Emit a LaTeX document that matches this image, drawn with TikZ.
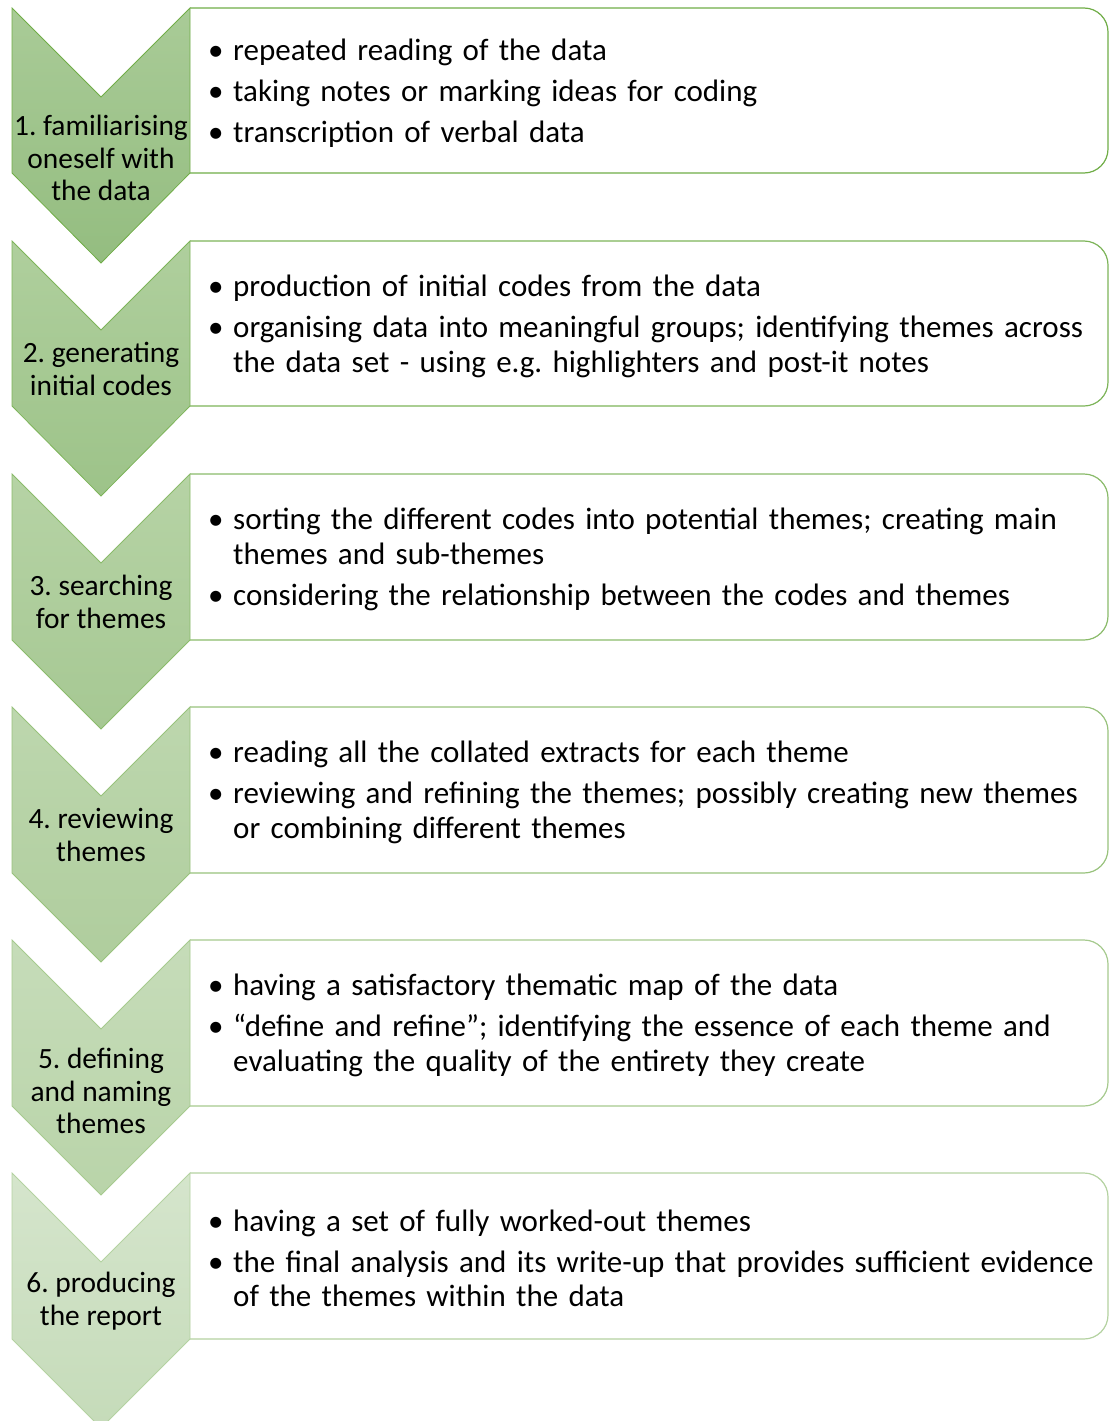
\documentclass[tikz,border=0pt]{standalone}
\usepackage{fontspec}
\setmainfont{Carlito}
\frenchspacing
\definecolor{haut1}{HTML}{A9CB97}\definecolor{bas1}{HTML}{94BD80}\definecolor{trait1}{HTML}{70AD47}
\definecolor{haut2}{HTML}{AFCF9D}\definecolor{bas2}{HTML}{9DC389}\definecolor{trait2}{HTML}{7DB459}
\definecolor{haut3}{HTML}{B6D3A5}\definecolor{bas3}{HTML}{A6C893}\definecolor{trait3}{HTML}{8ABB6A}
\definecolor{haut4}{HTML}{BDD7AE}\definecolor{bas4}{HTML}{AFCD9D}\definecolor{trait4}{HTML}{98C27C}
\definecolor{haut5}{HTML}{C6DCB9}\definecolor{bas5}{HTML}{B9D4A9}\definecolor{trait5}{HTML}{A6CA8E}
\definecolor{haut6}{HTML}{D5E5CC}\definecolor{bas6}{HTML}{C5DBB9}\definecolor{trait6}{HTML}{B4D2A1}
\newcommand\puce[1]{\hangindent=25pt\hangafter=1\noindent\makebox[25pt][l]{\textbullet}#1\par}
\tikzset{
  chevron/.style = {line width=0.8pt, line join=miter},% fleche verte
  boite/.style = {fill=white, line width=1.2pt, rounded corners=24pt},% cadre du texte
  etiq/.style = {align=center, inner sep=0pt,
    font=\fontsize{29.4}{32.5}\selectfont},% nom de l'etape
  puces/.style = {anchor=west, align=left, inner sep=0pt, text width=895pt,
    font=\fontsize{31}{34.5}\selectfont,
    execute at begin node=\setlength{\parskip}{6.5pt}}% liste a puces
}

\begin{document}
\begin{tikzpicture}[x=1pt,y=-1pt]
  \useasboundingbox (0,0) rectangle (1109,1421);
  % etape 1
  \draw[boite, draw=trait1] (190,8) -- (1108,8) -- (1108,173) -- (190,173);
  \draw[chevron, draw=trait1, top color=haut1, bottom color=bas1]
    (12,8) -- (101,97) -- (190,8) -- (190,173) -- (101,263) -- (12,173) -- cycle;
  \node[etiq] (e1) at (101,158) {1. familiarising\\oneself with\\the data};
  \node[puces] (p1) at (208,93) {\puce{repeated reading of the data}
    \puce{taking notes or marking ideas for coding}
    \puce{transcription of verbal data}};
  % etape 2
  \draw[boite, draw=trait2] (190,241) -- (1108,241) -- (1108,406) -- (190,406);
  \draw[chevron, draw=trait2, top color=haut2, bottom color=bas2]
    (12,241) -- (101,330) -- (190,241) -- (190,406) -- (101,496) -- (12,406) -- cycle;
  \node[etiq] (e2) at (101,369) {2. generating\\initial codes};
  \node[puces] (p2) at (208,326.5) {\puce{production of initial codes from the data}
    \puce{organising data into meaningful groups; identifying themes across\newline
      the data set - using e.g. highlighters and post-it notes}};
  % etape 3
  \draw[boite, draw=trait3] (190,474) -- (1108,474) -- (1108,640) -- (190,640);
  \draw[chevron, draw=trait3, top color=haut3, bottom color=bas3]
    (12,474) -- (101,563) -- (190,474) -- (190,640) -- (101,729) -- (12,640) -- cycle;
  \node[etiq] (e3) at (101,602) {3. searching\\for themes};
  \node[puces] (p3) at (208,559.5) {\puce{sorting the different codes into potential themes; creating main\newline
      themes and sub-themes}
    \puce{considering the relationship between the codes and themes}};
  % etape 4
  \draw[boite, draw=trait4] (190,707) -- (1108,707) -- (1108,873) -- (190,873);
  \draw[chevron, draw=trait4, top color=haut4, bottom color=bas4]
    (12,707) -- (101,796) -- (190,707) -- (190,873) -- (101,962) -- (12,873) -- cycle;
  \node[etiq] (e4) at (101,835) {4. reviewing\\themes};
  \node[puces] (p4) at (208,792.5) {\puce{reading all the collated extracts for each theme}
    \puce{reviewing and refining the themes; possibly creating new themes\newline
      or combining different themes}};
  % etape 5
  \draw[boite, draw=trait5] (190,940) -- (1108,940) -- (1108,1106) -- (190,1106);
  \draw[chevron, draw=trait5, top color=haut5, bottom color=bas5]
    (12,940) -- (101,1029) -- (190,940) -- (190,1106) -- (101,1195) -- (12,1106) -- cycle;
  \node[etiq] (e5) at (101,1091) {5. defining\\and naming\\themes};
  \node[puces] (p5) at (208,1025.5) {\puce{having a satisfactory thematic map of the data}
    \puce{“define and refine”; identifying the essence of each theme and\newline
      evaluating the quality of the entirety they create}};
  % etape 6
  \draw[boite, draw=trait6] (190,1173) -- (1108,1173) -- (1108,1339) -- (190,1339);
  \draw[chevron, draw=trait6, top color=haut6, bottom color=bas6]
    (12,1173) -- (101,1262) -- (190,1173) -- (190,1339) -- (101,1428) -- (12,1339) -- cycle;
  \node[etiq] (e6) at (101,1301) {6. producing\\the report};
  \node[puces] (p6) at (208,1258.5) {\puce{having a set of fully worked-out themes}
    \puce{the final analysis and its write-up that provides sufficient evidence\newline
      of the themes within the data}};
\end{tikzpicture}
\end{document}
